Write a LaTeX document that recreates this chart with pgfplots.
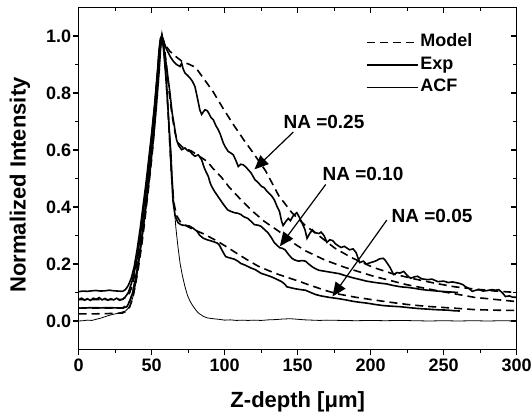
\documentclass[border=0pt]{standalone}
\usepackage{pgfplots}
\pgfplotsset{compat=1.18}
\usepackage{fontspec}
\setmainfont{Liberation Sans}
\usetikzlibrary{arrows.meta}
\pgfplotsset{
  modelstyle/.style={black, line width=1.6pt, dash pattern=on 8pt off 5pt},
  expstyle/.style={black, line width=1.6pt},
  acfstyle/.style={black, line width=0.8pt},
  common/.style={
    at={(0,0)}, anchor=south west, scale only axis,
    width=438pt, height=342pt,
    xmin=0, xmax=300, ymin=-0.1, ymax=1.1,
    xtick={0,50,100,150,200,250,300}, ytick={0,0.2,0.4,0.6,0.8,1.0},
    minor x tick num=1, minor y tick num=1,
    major tick length=6pt, minor tick length=3.5pt,
    axis line style={line width=1.3pt},
    every tick/.style={black, line width=1.2pt},
  },
}
\begin{document}
\begin{tikzpicture}
\useasboundingbox (-78.7pt,-64.5pt) rectangle (453.3pt,349.5pt);
\begin{axis}[common,
  tick align=outside,
  xtick pos=bottom, ytick pos=left,
  xticklabels={\textbf{0},\textbf{50},\textbf{100},\textbf{150},\textbf{200},\textbf{250},\textbf{300}},
  yticklabels={\textbf{0.0},\textbf{0.2},\textbf{0.4},\textbf{0.6},\textbf{0.8},\textbf{1.0}},
  tick label style={font=\fontsize{18}{18}\selectfont\bfseries},
  yticklabel style={xshift=2pt},
  xlabel={Z-depth [μm]},
  ylabel={Normalized Intensity},
  label style={font=\fontsize{22}{22}\selectfont\bfseries},
  xlabel style={at={(rel axis cs:0.5,0)}, anchor=center, yshift=-52.5pt},
  ylabel style={at={(rel axis cs:0,0.5)}, anchor=center, yshift=58.7pt, xshift=-6.5pt},
  legend style={at={(axis cs:196.5,1.015)}, anchor=north west, draw=none, fill=none,
    font=\fontsize{18}{23}\selectfont\bfseries, inner sep=0pt, row sep=1.5pt,
    nodes={text height=13pt, text depth=4pt}},
  legend cell align=left,
  legend image code/.code={\draw[#1] (0pt,0pt) -- (51pt,0pt);},
]
\addlegendimage{black, line width=1.6pt, dash pattern=on 8pt off 5pt}\addlegendentry{Model}
\addlegendimage{black, line width=1.6pt}\addlegendentry{Exp}
\addlegendimage{black, line width=0.8pt}\addlegendentry{ACF}

% Exp NA=0.25
\addplot[expstyle, forget plot] coordinates {(0,0.103)(3,0.105)(6,0.104)(9,0.106)(12,0.107)(15,0.105)(18,0.106)(21,0.108)(24,0.106)(27,0.105)(30,0.104)(32,0.11)(34,0.125)(36,0.15)(38,0.19)(40,0.25)(42,0.32)(44,0.4)(46,0.48)(48,0.57)(50,0.66)(52,0.76)(54,0.88)(55,0.95)(56,0.99)(57,1.0)(58,0.985)(60,0.955)(61.5,0.94)(63,0.925)(65,0.91)(67,0.9)(69.4,0.893)(70.5,0.905)(71.5,0.885)(72.8,0.87)(74.5,0.862)(76.2,0.853)(78,0.84)(79.6,0.823)(81,0.79)(82,0.765)(83,0.74)(84.2,0.725)(85.5,0.735)(86.5,0.741)(88,0.738)(89,0.73)(90.5,0.715)(92.2,0.706)(94,0.685)(95.6,0.671)(97,0.655)(99,0.625)(100.5,0.61)(102.4,0.595)(104,0.59)(105.9,0.583)(107.5,0.565)(109.3,0.542)(111,0.55)(112.7,0.548)(114.5,0.54)(116.1,0.531)(118,0.52)(120.7,0.496)(123,0.485)(125.3,0.472)(127,0.468)(129,0.455)(132,0.44)(134,0.425)(136,0.4)(137.5,0.385)(139,0.35)(140,0.335)(142,0.35)(143.6,0.36)(145,0.352)(147,0.37)(149.4,0.38)(151,0.365)(153,0.344)(155,0.32)(156.4,0.29)(158,0.305)(160,0.32)(162,0.31)(164.6,0.307)(166,0.312)(168,0.3)(170,0.276)(172,0.285)(174,0.282)(176,0.27)(179.6,0.258)(182,0.262)(185.5,0.25)(188,0.253)(190,0.24)(192.4,0.205)(195,0.21)(197,0.2)(200,0.205)(202,0.208)(204,0.212)(206,0.218)(208.7,0.22)(210,0.213)(211,0.205)(213,0.19)(215.7,0.163)(218,0.17)(220,0.168)(222.6,0.174)(225,0.16)(227.3,0.15)(230,0.155)(232,0.157)(235,0.148)(239,0.145)(242,0.147)(246,0.138)(250,0.14)(253,0.135)(256,0.137)(260,0.133)(263,0.128)(265,0.12)(267,0.115)(269.6,0.104)(272,0.108)(274,0.11)(277,0.105)(280,0.107)(283,0.11)(285.5,0.108)(287.7,0.11)(290,0.1)(292.3,0.086)(295,0.088)(297,0.084)(300,0.083)};

% Exp NA=0.10
\addplot[expstyle, forget plot] coordinates {(0,0.075)(2,0.08)(4,0.073)(6,0.078)(8,0.072)(10,0.08)(12,0.076)(14,0.082)(16,0.074)(18,0.079)(20,0.073)(22,0.078)(24,0.074)(26,0.08)(28,0.073)(30,0.076)(32,0.085)(34,0.1)(36,0.13)(38,0.17)(40,0.22)(42,0.29)(44,0.37)(46,0.46)(48,0.55)(50,0.65)(52,0.75)(54,0.87)(55,0.94)(56,0.99)(57,1.0)(58,0.97)(60,0.9)(61,0.86)(62.5,0.8)(64,0.73)(65,0.7)(67,0.636)(68.5,0.615)(70.5,0.601)(72.8,0.607)(74.5,0.598)(76.2,0.595)(78,0.585)(79.6,0.578)(81.9,0.583)(84.2,0.566)(85.5,0.545)(86.5,0.531)(88.8,0.507)(90,0.485)(91.1,0.472)(93,0.455)(95,0.44)(97,0.425)(99,0.41)(102,0.39)(104,0.385)(106.6,0.38)(109,0.378)(111,0.374)(113,0.366)(115.8,0.36)(118,0.35)(120.4,0.338)(123,0.336)(125,0.332)(127,0.322)(129.6,0.31)(132,0.292)(134,0.275)(136,0.265)(137.7,0.257)(139.5,0.255)(141.3,0.25)(143.5,0.235)(146,0.22)(148,0.214)(150.6,0.21)(153,0.212)(155.3,0.21)(157.5,0.2)(160,0.19)(162,0.184)(164.5,0.178)(168,0.175)(171.5,0.172)(175,0.169)(178.5,0.166)(182,0.16)(185.5,0.155)(189,0.15)(192.4,0.146)(197,0.14)(201.7,0.136)(206,0.133)(211,0.13)(215,0.125)(220.4,0.12)(225,0.118)(229.6,0.115)(234,0.111)(239,0.108)(243.5,0.106)(248.3,0.104)(254,0.102)(259.8,0.1)};

% Exp NA=0.05
\addplot[expstyle, forget plot] coordinates {(0,0.045)(5,0.046)(10,0.047)(15,0.046)(20,0.047)(25,0.046)(30,0.045)(33,0.05)(35,0.07)(37,0.1)(39,0.15)(41,0.21)(43,0.28)(45,0.36)(47,0.45)(49,0.55)(51,0.66)(53,0.78)(55,0.92)(56,0.98)(57,1.0)(58,0.96)(59.5,0.87)(61,0.76)(62.5,0.62)(63.5,0.52)(64.6,0.42)(66,0.37)(68,0.345)(70,0.338)(71.6,0.336)(74,0.335)(76,0.333)(78.5,0.325)(81,0.315)(83,0.3)(85.5,0.29)(88,0.285)(90,0.282)(92.5,0.278)(95,0.273)(96.5,0.265)(98,0.25)(99.5,0.236)(100.7,0.226)(103,0.222)(106.6,0.217)(109,0.21)(111,0.202)(114,0.196)(118,0.186)(121,0.18)(125,0.167)(128,0.162)(132,0.155)(135,0.148)(139,0.138)(141,0.13)(142.6,0.12)(145,0.117)(148.4,0.113)(152,0.11)(155.3,0.108)(158,0.102)(162.2,0.093)(166,0.088)(171.5,0.083)(178.5,0.078)(183,0.074)(188,0.069)(192,0.066)(197,0.063)(203,0.058)(208.7,0.054)(214,0.052)(220.4,0.05)(226,0.047)(232,0.044)(238,0.042)(243.5,0.04)(248,0.039)(253,0.038)(257,0.036)(261,0.035)};

% Model NA=0.25
\addplot[modelstyle, forget plot] coordinates {(0,0.075)(10,0.075)(20,0.075)(30,0.076)(33,0.085)(35,0.1)(37,0.13)(39,0.18)(41,0.24)(43,0.31)(45,0.39)(47,0.47)(49,0.56)(51,0.66)(53,0.77)(55,0.9)(56,0.97)(57,1.0)(59.1,0.97)(62.5,0.946)(66,0.93)(71,0.91)(76,0.9)(80,0.89)(85,0.855)(92,0.805)(99,0.745)(106.5,0.685)(113,0.636)(119.5,0.59)(128,0.527)(137,0.44)(146,0.38)(155,0.336)(164.6,0.299)(175.6,0.255)(187,0.222)(201.7,0.188)(215.6,0.165)(229.6,0.148)(243.5,0.133)(257.5,0.12)(271.5,0.112)(285.5,0.105)(300,0.10)};

% Model NA=0.10
\addplot[modelstyle, forget plot] coordinates {(0,0.045)(10,0.045)(20,0.045)(30,0.046)(33,0.055)(35,0.07)(37,0.1)(39,0.15)(41,0.21)(43,0.28)(45,0.36)(47,0.44)(49,0.53)(51,0.63)(53,0.74)(55,0.87)(56,0.95)(57,1.0)(58.5,0.97)(60,0.9)(62,0.8)(64,0.72)(66,0.66)(68,0.625)(71,0.61)(74,0.603)(77,0.597)(82,0.58)(88,0.56)(92,0.535)(97.5,0.506)(103,0.47)(109,0.437)(118,0.39)(127,0.35)(137,0.315)(146,0.277)(155,0.247)(169,0.213)(183,0.187)(202,0.157)(225,0.127)(248,0.104)(271,0.083)(300,0.068)};

% Model NA=0.05
\addplot[modelstyle, forget plot] coordinates {(0,0.025)(10,0.025)(20,0.026)(30,0.028)(33,0.035)(35,0.05)(37,0.08)(39,0.13)(41,0.19)(43,0.26)(45,0.34)(47,0.43)(49,0.52)(51,0.62)(53,0.74)(55,0.87)(56,0.95)(57,1.0)(58.5,0.95)(60,0.84)(62,0.66)(63.5,0.52)(65,0.42)(67,0.37)(70,0.345)(75,0.33)(80,0.318)(85.5,0.306)(95,0.28)(102,0.258)(109,0.235)(116,0.213)(122.7,0.193)(130,0.177)(137,0.163)(144,0.151)(150.6,0.14)(157,0.128)(164.5,0.115)(171,0.104)(178.5,0.094)(190,0.083)(202,0.074)(213,0.066)(225,0.058)(237,0.052)(248,0.048)(260,0.044)(271,0.04)(285,0.038)(300,0.037)};

% ACF
\addplot[acfstyle, forget plot] coordinates {(0,0.0)(3,0.001)(6,0.003)(9,0.002)(12,0.006)(15,0.01)(18,0.015)(21,0.02)(24,0.024)(27,0.027)(30,0.032)(32,0.035)(34,0.045)(36,0.065)(38,0.1)(40,0.16)(42,0.24)(44,0.33)(46,0.43)(48,0.54)(50,0.65)(52,0.76)(54,0.88)(55.5,0.97)(56.5,1.0)(58,0.96)(59.5,0.87)(61,0.77)(62,0.69)(63.4,0.59)(64.2,0.5)(65.3,0.41)(66.5,0.33)(68,0.26)(69.5,0.2)(71,0.16)(72.8,0.12)(74.5,0.09)(76.2,0.07)(77.8,0.056)(80,0.04)(82,0.028)(85.5,0.016)(88,0.011)(92,0.008)(96,0.006)(100,0.003)(104,0.004)(108,0.002)(112,0.003)(116,0.002)(120,0.003)(125,0.002)(130,0.004)(135,0.005)(140,0.007)(145,0.008)(150,0.006)(155,0.004)(160,0.003)(165,0.002)(170,0.003)(180,0.002)(190,0.001)(200,0.002)(210,0.001)(220,0.002)(230,0.001)(240,0.0)(250,0.001)(260,0.0)(270,0.001)(280,0.0)(290,0.001)(300,0.0)};

% annotations
\node[font=\fontsize{19}{19}\selectfont\bfseries] at (axis cs:168,0.70) {NA =0.25};
\node[font=\fontsize{19}{19}\selectfont\bfseries] at (axis cs:194.7,0.517) {NA =0.10};
\node[font=\fontsize{19}{19}\selectfont\bfseries] at (axis cs:242,0.368) {NA =0.05};
\draw[line width=1.2pt, -{Triangle[length=14pt,width=12pt]}] (axis cs:147,0.663) -- (axis cs:120.4,0.532);
\draw[line width=1.2pt, -{Triangle[length=14pt,width=12pt]}] (axis cs:169.2,0.479) -- (axis cs:137.8,0.262);
\draw[line width=1.2pt, -{Triangle[length=14pt,width=12pt]}] (axis cs:211,0.354) -- (axis cs:173.8,0.086);
\end{axis}
\begin{axis}[common,
  tick align=inside,
  xtick pos=top, ytick pos=right,
  xticklabels={}, yticklabels={},
]
\end{axis}
\end{tikzpicture}
\end{document}
